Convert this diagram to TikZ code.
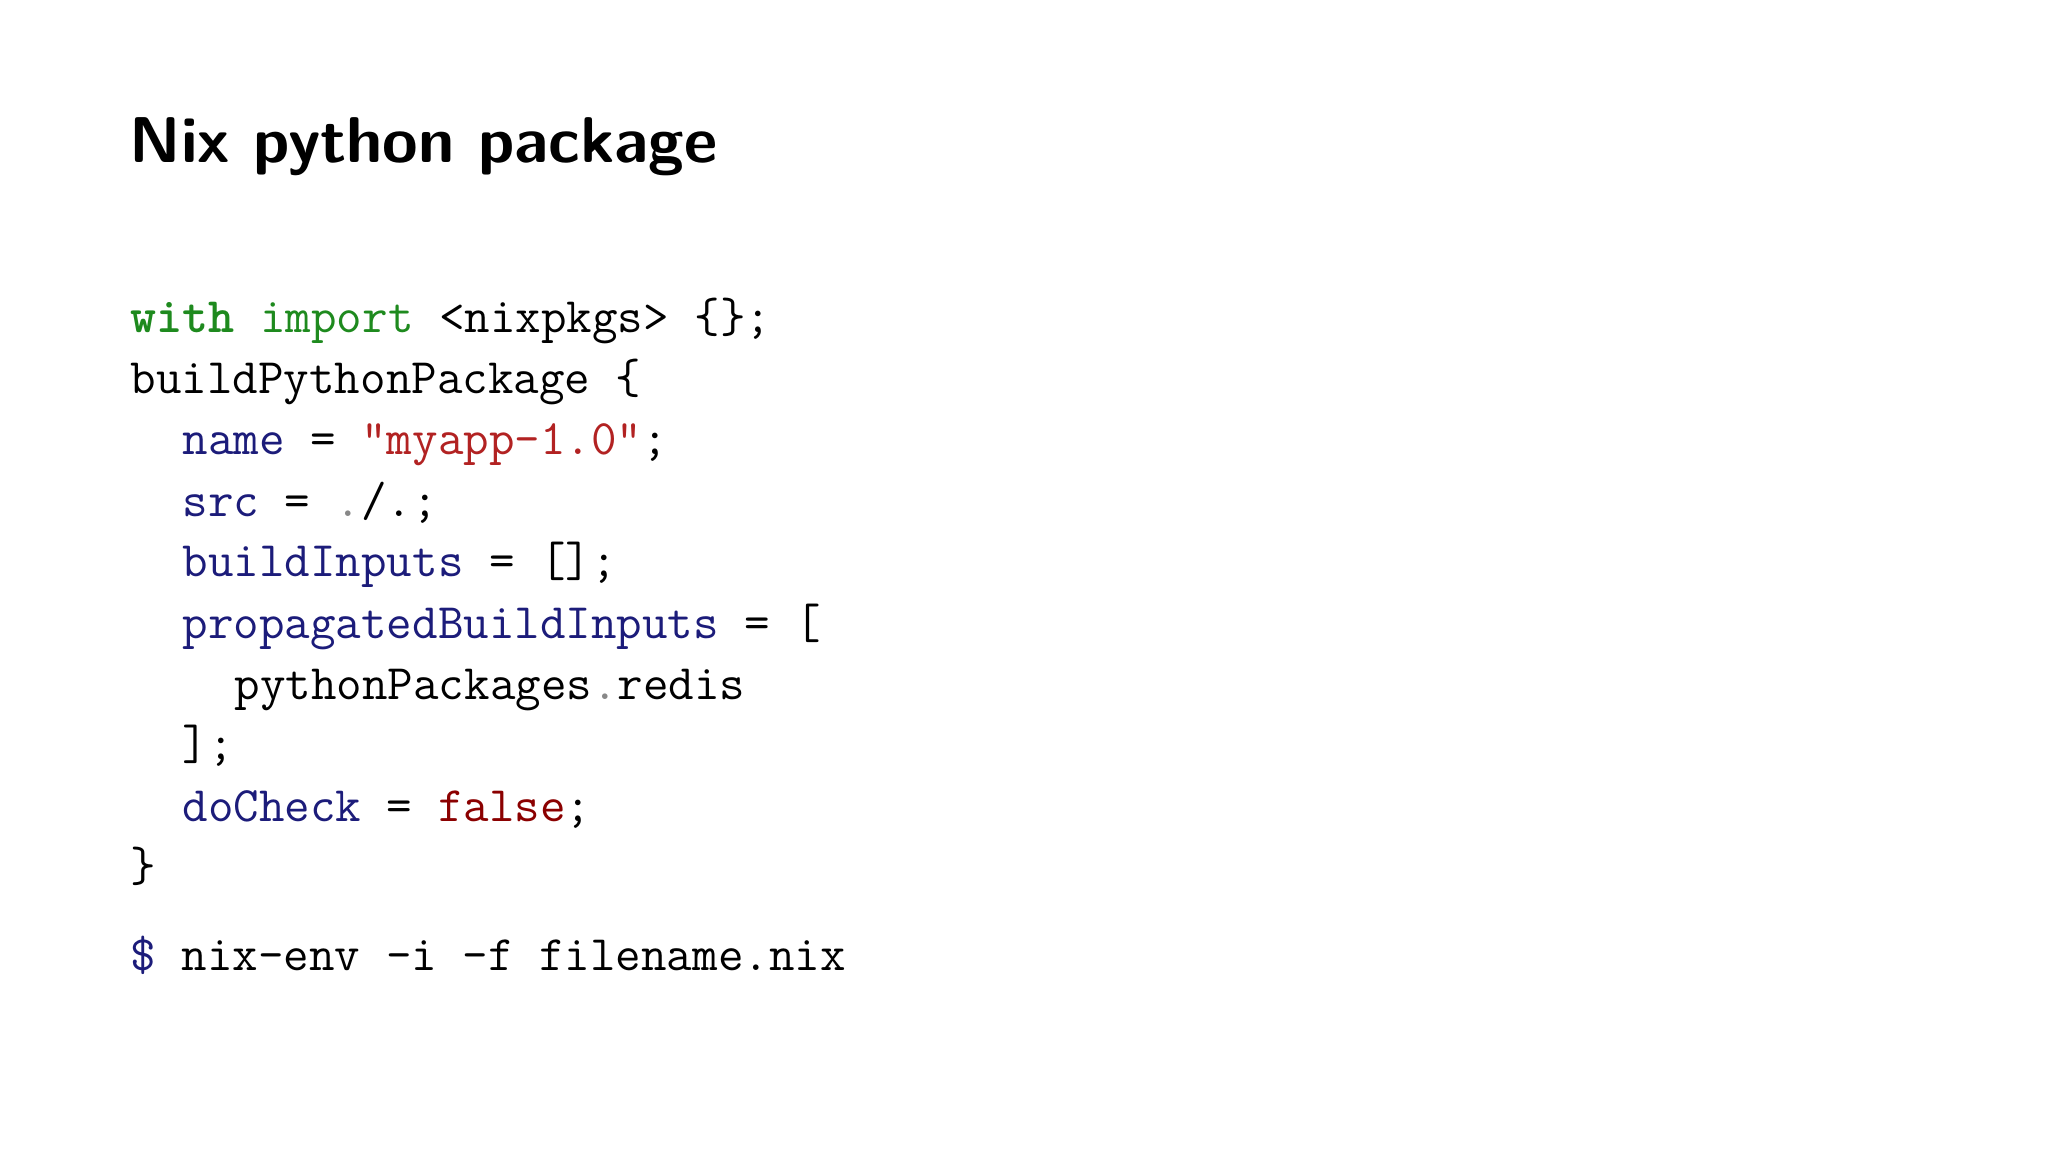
\documentclass[tikz,border=0pt]{standalone}
\usepackage{fontspec}
\definecolor{kwgreen}{HTML}{1E8A1E}
\definecolor{attr}{HTML}{1C1C7A}
\definecolor{str}{HTML}{B22222}
\definecolor{dred}{HTML}{8B0000}
\definecolor{dotg}{HTML}{888888}
\begin{document}
\begin{tikzpicture}[x=0.01cm,y=-0.01cm,
  code/.style={anchor=base west,inner sep=0pt,font=\fontsize{14.1pt}{17pt}\ttfamily},
  ttl/.style={anchor=base west,inner sep=0pt,font=\fontsize{18.4pt}{22pt}\sffamily\bfseries}]
\useasboundingbox[fill=white] (0,0) rectangle (2048,1152);
\node[ttl] (title) at (129,163) {Nix python package};
\node[code] (l1) at (130,333) {\textcolor{kwgreen}{\textbf{with}} \textcolor{kwgreen}{import} <nixpkgs> \{\};};
\node[code] (l2) at (130,394) {buildPythonPackage \{};
\node[code] (l3) at (182,455) {\textcolor{attr}{name} = \textcolor{str}{"myapp-1.0"};};
\node[code] (l4) at (182,517) {\textcolor{attr}{src} = \textcolor{dotg}{.}/.;};
\node[code] (l5) at (182,577) {\textcolor{attr}{buildInputs} = [];};
\node[code] (l6) at (182,638) {\textcolor{attr}{propagatedBuildInputs} = [};
\node[code] (l7) at (234,699) {pythonPackages\textcolor{dotg}{.}redis};
\node[code] (l8) at (182,759) {];};
\node[code] (l9) at (182,821) {\textcolor{attr}{doCheck} = \textcolor{dred}{false};};
\node[code] (l10) at (130,881) {\}};
\node[code] (l11) at (130,970) {\textcolor{attr}{\$} nix-env -i -f filename.nix};
\end{tikzpicture}
\end{document}
